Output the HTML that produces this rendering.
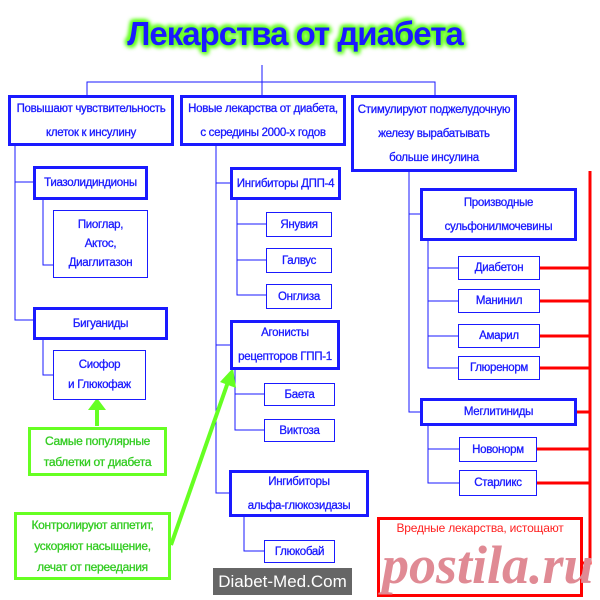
<!DOCTYPE html>
<html><head><meta charset="utf-8"><style>
body{margin:0;width:600px;height:600px;background:#fff;position:relative;overflow:hidden;font-family:"Liberation Sans",sans-serif}
.b{position:absolute;box-sizing:border-box;border:1.5px solid #1a1aff;background:#fff;color:#1a1aff;font-size:11.5px;letter-spacing:-0.3px;white-space:nowrap;display:flex;align-items:center;justify-content:center;text-align:center;line-height:24px;-webkit-text-stroke:0.3px #1a1aff}
.t{border-width:3px}
.g{border:3px solid #66ff22;color:#33cc22;-webkit-text-stroke:0.3px #33cc22;font-size:12px}
svg{position:absolute;left:0;top:0}
</style></head><body>
<svg width="600" height="600">
<g stroke="#1a1aff" stroke-width="1" fill="none">
<path d="M262 65V82M87 95V82H435V95M262 82V95"/>
<path d="M15 146V320H33M15 182H33M43 199V265H53M43 340V375H53"/>
<path d="M216 146V493H229M216 183H230M216 345H230M237 200V295H266M237 224H266M237 260H266M235 370V430H264M235 394H264M244 517V551H264"/>
<path d="M409 171V412H420M409 214H420M428 241V368H458M428 268H458M428 301H458M428 336H458M428 425V483H459M428 449H459"/>
</g>
<g stroke="#ff0000" stroke-width="3" fill="none">
<path d="M590 171V563H583M540 268H590M540 301H590M540 336H590M540 368H590M577 412H590M537 449H590M537 483H590"/>
</g>
<g stroke="#66ff22" stroke-width="4" fill="#66ff22">
<path d="M97 426V408"/><polygon points="88,410 106,410 97,398" stroke="none"/>
<path d="M171 545L228 382"/><polygon points="220,382 236,388 233,368" stroke="none"/>
</g>
</svg>
<div style="position:absolute;left:0;width:590px;top:15px;text-align:center;font-size:33px;font-weight:bold;color:#1a1aff;letter-spacing:-1px;text-shadow:0 0 4px #66ff22,0 0 4px #66ff22,0 0 6px #66ff22,0 0 6px #66ff22,2px 2px 4px #66ff22,-2px -2px 4px #66ff22">Лекарства от диабета</div>
<div class="b t" style="left:8px;top:95px;width:166px;height:51px">Повышают чувствительность<br>клеток к инсулину</div>
<div class="b t" style="left:180px;top:95px;width:166px;height:51px">Новые лекарства от диабета,<br>с середины 2000-х годов</div>
<div class="b t" style="left:351px;top:95px;width:166px;height:77px">Стимулируют поджелудочную<br>железу вырабатывать<br>больше инсулина</div>
<div class="b t" style="left:33px;top:166px;width:115px;height:34px">Тиазолидиндионы</div>
<div class="b" style="left:53px;top:210px;width:95px;height:68px;line-height:19px">Пиоглар,<br>Актос,<br>Диаглитазон</div>
<div class="b t" style="left:33px;top:307px;width:135px;height:33px">Бигуаниды</div>
<div class="b" style="left:53px;top:350px;width:93px;height:50px;line-height:20px">Сиофор<br>и Глюкофаж</div>
<div class="b t" style="left:230px;top:167px;width:111px;height:33px">Ингибиторы ДПП-4</div>
<div class="b" style="left:266px;top:212px;width:66px;height:25px">Янувия</div>
<div class="b" style="left:266px;top:248px;width:66px;height:25px">Галвус</div>
<div class="b" style="left:266px;top:284px;width:66px;height:25px">Онглиза</div>
<div class="b t" style="left:230px;top:320px;width:110px;height:50px">Агонисты<br>рецепторов ГПП-1</div>
<div class="b" style="left:264px;top:383px;width:71px;height:23px">Баета</div>
<div class="b" style="left:264px;top:419px;width:71px;height:23px">Виктоза</div>
<div class="b t" style="left:229px;top:470px;width:140px;height:47px">Ингибиторы<br>альфа-глюкозидазы</div>
<div class="b" style="left:264px;top:540px;width:71px;height:23px">Глюкобай</div>
<div class="b t" style="left:420px;top:188px;width:157px;height:53px">Производные<br>сульфонилмочевины</div>
<div class="b" style="left:458px;top:256px;width:82px;height:24px">Диабетон</div>
<div class="b" style="left:458px;top:289px;width:82px;height:24px">Манинил</div>
<div class="b" style="left:458px;top:324px;width:82px;height:24px">Амарил</div>
<div class="b" style="left:458px;top:356px;width:82px;height:24px">Глюренорм</div>
<div class="b t" style="left:420px;top:398px;width:157px;height:28px">Меглитиниды</div>
<div class="b" style="left:459px;top:437px;width:78px;height:25px">Новонорм</div>
<div class="b" style="left:459px;top:470px;width:78px;height:26px">Старликс</div>
<div class="b g" style="left:28px;top:427px;width:139px;height:49px;line-height:21px">Самые популярные<br>таблетки от диабета</div>
<div class="b g" style="left:14px;top:512px;width:157px;height:68px;line-height:21px">Контролируют аппетит,<br>ускоряют насыщение,<br>лечат от переедания</div>
<div style="position:absolute;left:213px;top:568px;width:139px;height:27px;background:#666;color:#fff;font-size:17px;text-align:center;line-height:27px">Diabet-Med.Com</div>
<div style="position:absolute;left:377px;top:517px;width:206px;height:80px;box-sizing:border-box;border:3px solid #ff0000;background:#fff"></div>
<div style="position:absolute;left:380px;top:521px;width:200px;color:#ff2020;font-size:12px;letter-spacing:-0.2px;text-align:center;white-space:nowrap">Вредные лекарства, истощают</div>
<div style="position:absolute;left:382px;top:538px;color:#e08a94;font-family:'Liberation Serif',serif;font-style:italic;font-weight:bold;font-size:54px;line-height:54px;white-space:nowrap">postila.ru</div>
</body></html>
